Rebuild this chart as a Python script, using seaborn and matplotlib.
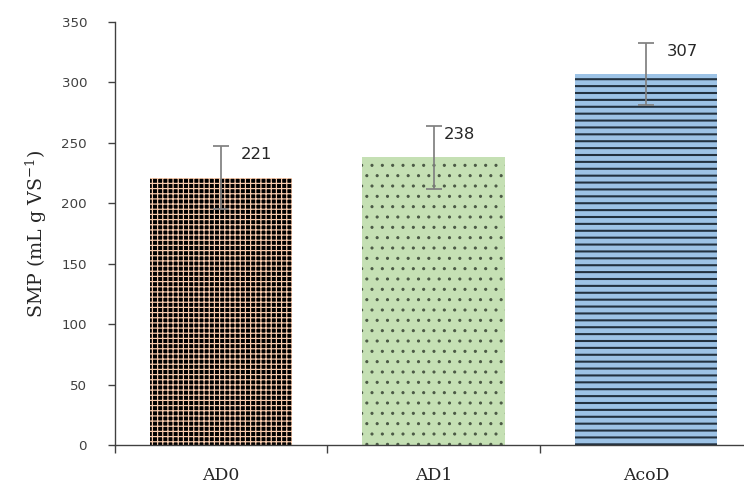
import numpy as np
import pandas as pd
import matplotlib
matplotlib.use('Agg')
import matplotlib.pyplot as plt
import seaborn as sns

# dados =======================================================================
categorias = ['AD0', 'AD1', 'AcoD']
smp = [221, 238, 307]
erro = [26, 26, 26]
rotulos = ['221', '238', '307']

# estilo das barras
cores_fundo = ['#000000', '#C5E0B4', '#9DC3E6']
cores_hatch = ['#F8CBAD', '#4A5844', '#22313F']
hatches = ['++++', '..', '---']
larg_hatch = [0.7, 0.6, 1.2]
dx_rotulo = [20, 10, 21]  # deslocamento do rótulo em px

sns.set_style('white')
plt.rcParams['font.family'] = ['DejaVu Sans']
plt.rcParams['mathtext.fontset'] = 'custom'
plt.rcParams['mathtext.rm'] = 'DejaVu Serif'

df = pd.DataFrame({'cat': categorias, 'smp': smp})

fig = plt.figure(figsize=(6.0, 486 / 124), dpi=124)
ax = fig.add_axes([115 / 744, 41 / 486, 637 / 744, 423 / 486])

sns.barplot(data=df, x='cat', y='smp', hue='cat', palette=cores_fundo,
            width=0.67, legend=False, ax=ax, errorbar=None)

for p, fc, hc, h, lw in zip(ax.patches, cores_fundo, cores_hatch, hatches, larg_hatch):
    p.set_facecolor(fc)
    p.set_edgecolor(hc)
    p.set_linewidth(0)
    p.set_hatch(h)
    if hasattr(p, 'set_hatch_linewidth'):
        p.set_hatch_linewidth(lw)

ax.errorbar(categorias, smp, yerr=erro, fmt='none', ecolor='#7F7F7F',
            elinewidth=1.0, capsize=4.5, capthick=1.0, zorder=5)

for i, (v, e, r) in enumerate(zip(smp, erro, rotulos)):
    ax.annotate(r, xy=(i, v + e - 7), xytext=(dx_rotulo[i], 0),
                textcoords='offset pixels', ha='left', va='center',
                fontsize=9.5, color='#262626', family='DejaVu Sans')

ax.set_ylim(0, 350)
ax.set_yticks(np.arange(0, 351, 50))
ax.set_xlim(-0.5, 2.5)
ax.set_xticks([0, 1, 2])
ax.set_xticks([-0.5, 0.5, 1.5, 2.5], minor=True)
ax.tick_params(axis='x', which='major', bottom=False, length=0, pad=13)
ax.tick_params(axis='x', which='minor', bottom=True, length=4.6, width=0.8,
               color='#404040', direction='out')
ax.tick_params(axis='y', left=True, length=4.2, width=0.8, color='#404040',
               direction='out', labelsize=7.8, pad=12, labelcolor='#404040')
ax.set_xticklabels(categorias)
for lab in ax.get_xticklabels():
    lab.set_family('DejaVu Serif')
    lab.set_fontsize(10)
    lab.set_color('#262626')

ax.set_xlabel('')
ax.set_ylabel('SMP (mL g VS$^{\\mathregular{-1}}$)', family='DejaVu Serif',
              fontsize=11, color='#262626')
ax.yaxis.set_label_coords(-0.104, 0.5)

sns.despine(ax=ax)
for s in ['left', 'bottom']:
    ax.spines[s].set_color('#404040')
    ax.spines[s].set_linewidth(0.8)

fig.savefig('out.png', dpi=124)
